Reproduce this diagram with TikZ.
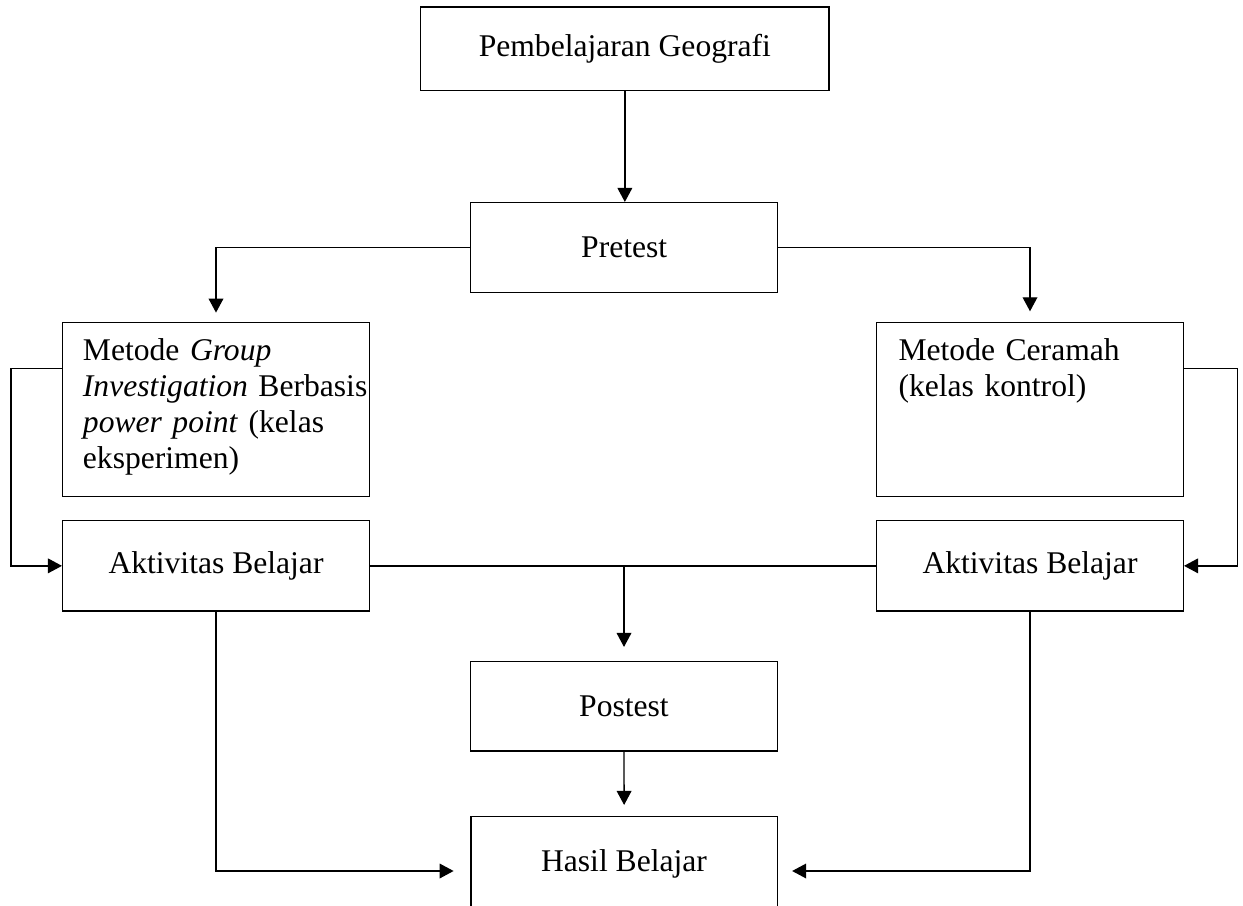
\documentclass[tikz,border=0pt]{standalone}
\usepackage{fontspec}
\setmainfont{Liberation Serif}
\usetikzlibrary{arrows.meta}
\tikzset{
  fnt/.style={font=\fontsize{23.7pt}{27.1pt}\selectfont},
  box/.style={draw, line width=1.1pt, rectangle, inner sep=0pt, fnt},
  txt/.style={inner sep=0pt, fnt},
  conn/.style={line width=1pt},
  arr/.style={conn, -{Triangle[width=11pt,length=10.5pt]}},
}
\begin{document}
\begin{tikzpicture}[x=0.75pt,y=-0.75pt]
\useasboundingbox (0,0) rectangle (1243,906);
\fill[white] (0,0) rectangle (1243,906);
\clip (0,0) rectangle (1243,906);
% boxes
\node[box, minimum width=306.2pt, minimum height=62.8pt] (geo) at (624.85,48.85) {Pembelajaran Geografi};
\node[box, minimum width=230.25pt, minimum height=67.2pt] (pre) at (624.2,247.5) {Pretest};
\node[box, minimum width=229.95pt, minimum height=130.5pt] (mg) at (216,409.7) {};
\node[box, minimum width=229.95pt, minimum height=130.5pt] (mc) at (1030,409.7) {};
\node[box, minimum width=229.95pt, minimum height=67.7pt] (akl) at (216,565.85) {Aktivitas Belajar};
\node[box, minimum width=229.95pt, minimum height=67.7pt] (akr) at (1030,565.85) {Aktivitas Belajar};
\node[box, minimum width=229.95pt, minimum height=67.3pt] (post) at (624,706.15) {Postest};
\node[box, minimum width=229.7pt, minimum height=81.45pt] (hasil) at (624.15,871) {};
% texts
\node[txt, anchor=base west, align=left, text width=220pt] (mgtext) at (82.7,360)
  {Metode \textit{Group}\\\textit{Investigation} Berbasis\\\textit{power point} (kelas\\eksperimen)};
\node[txt, anchor=base west, align=left, text width=220pt] (mctext) at (898.3,360)
  {Metode Ceramah\\(kelas kontrol)};
\node[txt, anchor=base] (hasiltext) at (624,871) {Hasil Belajar};
% bend coordinates
\coordinate (lx) at (11,450);
\coordinate (rx) at (1237.7,450);
% connectors
\draw[arr] (geo.south) -- (geo.south |- pre.north);
\draw[arr, shorten >=7pt] (pre.west) -| (mg.north);
\draw[arr, shorten >=8pt] (pre.east) -| (mc.north);
\draw[arr] ([yshift=-34.7pt]mg.north west) -| (lx) |- (akl.west);
\draw[arr] ([yshift=-34.7pt]mc.north east) -| (rx) |- (akr.east);
\draw[conn] (akl.east) -- (akr.west);
\draw[arr, shorten >=10.2pt] (akl.east -| post.north) -- (post.north);
\draw[arr, shorten >=8.25pt] (post.south) -- (hasil.north);
\draw[arr, shorten >=12.5pt] (akl.south) |- (hasil.west);
\draw[arr, shorten >=10.6pt] (akr.south) |- (hasil.east);
\end{tikzpicture}
\end{document}
